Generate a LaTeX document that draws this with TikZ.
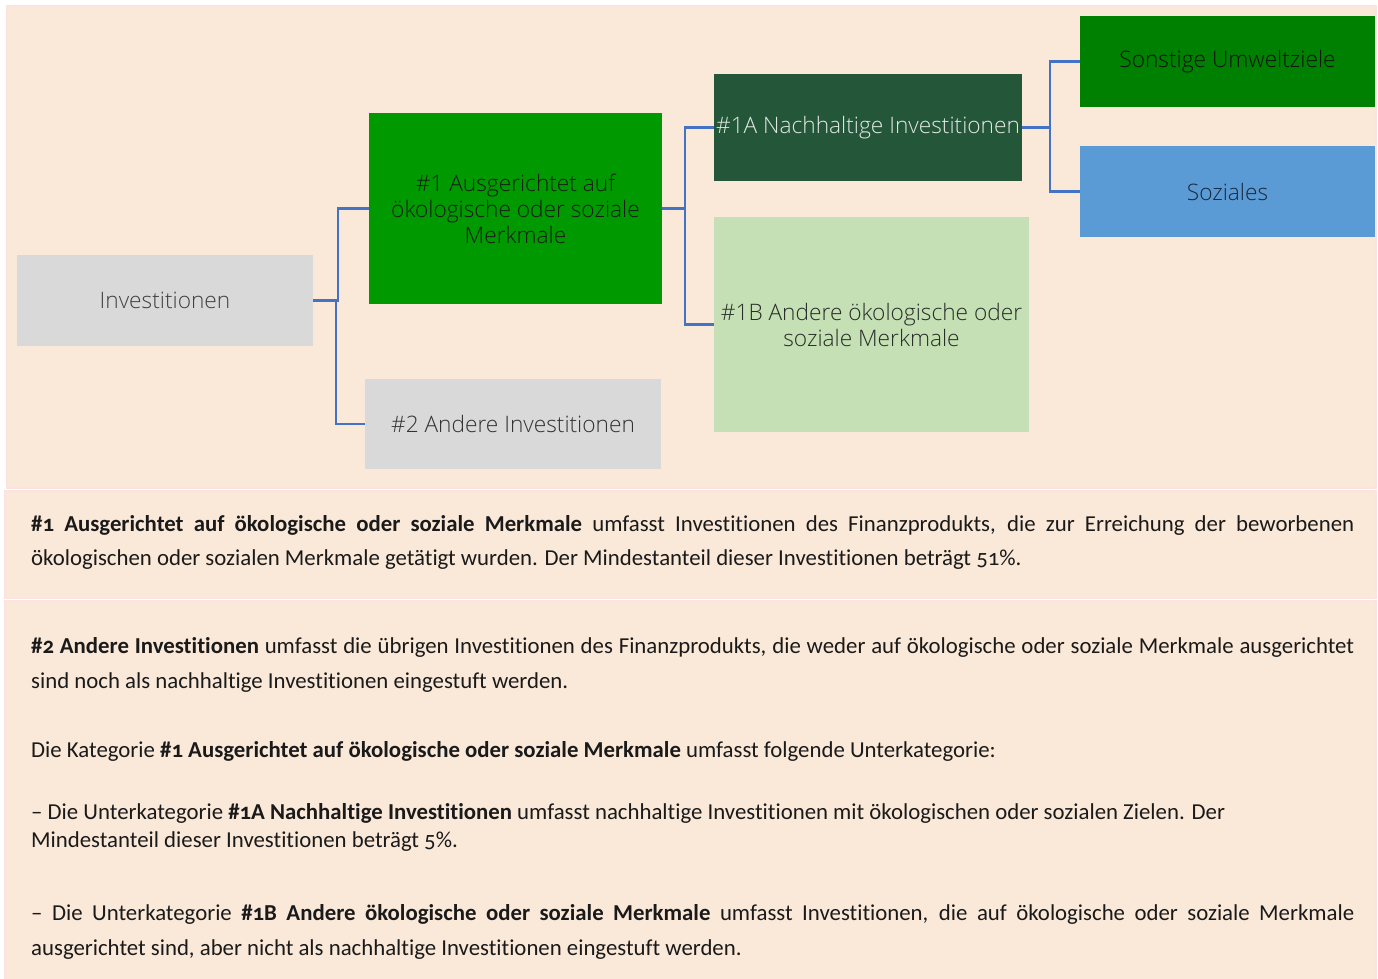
\documentclass[tikz,border=0pt]{standalone}
\usepackage{fontspec}
\setmainfont{Carlito}[Numbers=OldStyle, Ligatures=NoCommon]
\newfontfamily\boxfont{Open Sans Light}
\definecolor{panelfill}{RGB}{250,232,216}
\definecolor{panelline}{RGB}{252,226,224}
\definecolor{greyfill}{RGB}{217,217,217}
\definecolor{midgreen}{RGB}{0,153,0}
\definecolor{darkgreen}{RGB}{36,86,57}
\definecolor{lightgreen}{RGB}{197,224,180}
\definecolor{pureGreen}{RGB}{0,128,0}
\definecolor{skyblue}{RGB}{91,155,213}
\definecolor{connblue}{RGB}{68,114,196}
\definecolor{bodytext}{RGB}{26,26,26}
\tikzset{
  panel/.style={fill=panelfill, draw=panelline, line width=2.5pt},
  tbox/.style={rectangle, inner sep=0pt, align=center, font=\boxfont\fontsize{22.7}{26}\selectfont},
  conn/.style={draw=connblue, line width=2.5pt},
  txt/.style={anchor=base west, inner sep=0pt, text=bodytext, font=\fontsize{22.8}{26}\selectfont}
}
\begin{document}
\begin{tikzpicture}[x=1pt,y=-1pt]
\useasboundingbox (0,0) rectangle (1378,978);
\fill[white] (0,0) rectangle (1378,978);
\draw[panel] (7,6) rectangle (1376,488);
\draw[panel] (5,491) rectangle (1376,598);
\draw[panel] (5,601) rectangle (1376,982);

\node[tbox, fill=greyfill, minimum width=296pt, minimum height=91pt, text={rgb,255:red,64;green,64;blue,64}] (inv) at (165,300.5) {Investitionen};
\node[tbox, fill=midgreen, minimum width=293pt, minimum height=191pt, text={rgb,255:red,20;green,30;blue,20}] (n1) at (515.5,208.5) {\#1 Ausgerichtet auf\\ökologische oder soziale\\Merkmale};
\node[tbox, fill=greyfill, minimum width=296pt, minimum height=90pt, text={rgb,255:red,51;green,51;blue,51}] (n2) at (513,424) {\#2 Andere Investitionen};
\node[tbox, fill=darkgreen, minimum width=308pt, minimum height=107pt, text={rgb,255:red,225;green,232;blue,228}] (n1a) at (868,127.5) {\#1A Nachhaltige Investitionen};
\node[tbox, fill=lightgreen, minimum width=315pt, minimum height=215pt, text={rgb,255:red,40;green,45;blue,40}] (n1b) at (871.5,324.5) {\#1B Andere ökologische oder\\soziale Merkmale};
\node[tbox, fill=pureGreen, minimum width=295pt, minimum height=91pt, text={rgb,255:red,10;green,20;blue,10}] (son) at (1227.5,61.5) {Sonstige Umweltziele};
\node[tbox, fill=skyblue, minimum width=295pt, minimum height=91pt, text={rgb,255:red,25;green,40;blue,60}] (soz) at (1227.5,191.5) {Soziales};

\draw[conn] (inv.east) -- ++(25,0) |- (n1.west);
\draw[conn] (inv.east) -- ++(23,0) |- (n2.west);
\draw[conn] (n1.east) -- ++(23,0) |- (n1a.west);
\draw[conn] (n1.east) -- ++(23,0) |- (n1b.west);
\draw[conn] (n1a.east) -- ++(28,0) |- (son.west);
\draw[conn] (n1a.east) -- ++(28,0) |- (soz.west);

\node[txt] (t1) at (31,531) {\makebox[1323pt][s]{\textbf{\#1 Ausgerichtet auf ökologische oder soziale Merkmale} umfasst Investitionen des Finanzprodukts, die zur Erreichung der beworbenen}};
\node[txt] (t2) at (31,565) {ökologischen oder sozialen Merkmale getätigt wurden. Der Mindestanteil dieser Investitionen beträgt 51\%.};
\node[txt] (t3) at (31,653) {\makebox[1323pt][s]{\textbf{\#2 Andere Investitionen} umfasst die übrigen Investitionen des Finanzprodukts, die weder auf ökologische oder soziale Merkmale ausgerichtet}};
\node[txt] (t4) at (31,688) {sind noch als nachhaltige Investitionen eingestuft werden.};
\node[txt] (t5) at (31,757) {Die Kategorie \textbf{\#1 Ausgerichtet auf ökologische oder soziale Merkmale} umfasst folgende Unterkategorie:};
\node[txt] (t6) at (31,819) {– Die Unterkategorie \textbf{\#1A Nachhaltige Investitionen} umfasst nachhaltige Investitionen mit ökologischen oder sozialen Zielen. Der};
\node[txt] (t7) at (31,847) {Mindestanteil dieser Investitionen beträgt 5\%.};
\node[txt] (t8) at (31,920) {\makebox[1323pt][s]{– Die Unterkategorie \textbf{\#1B Andere ökologische oder soziale Merkmale} umfasst Investitionen, die auf ökologische oder soziale Merkmale}};
\node[txt] (t9) at (31,955) {ausgerichtet sind, aber nicht als nachhaltige Investitionen eingestuft werden.};
\end{tikzpicture}
\end{document}
